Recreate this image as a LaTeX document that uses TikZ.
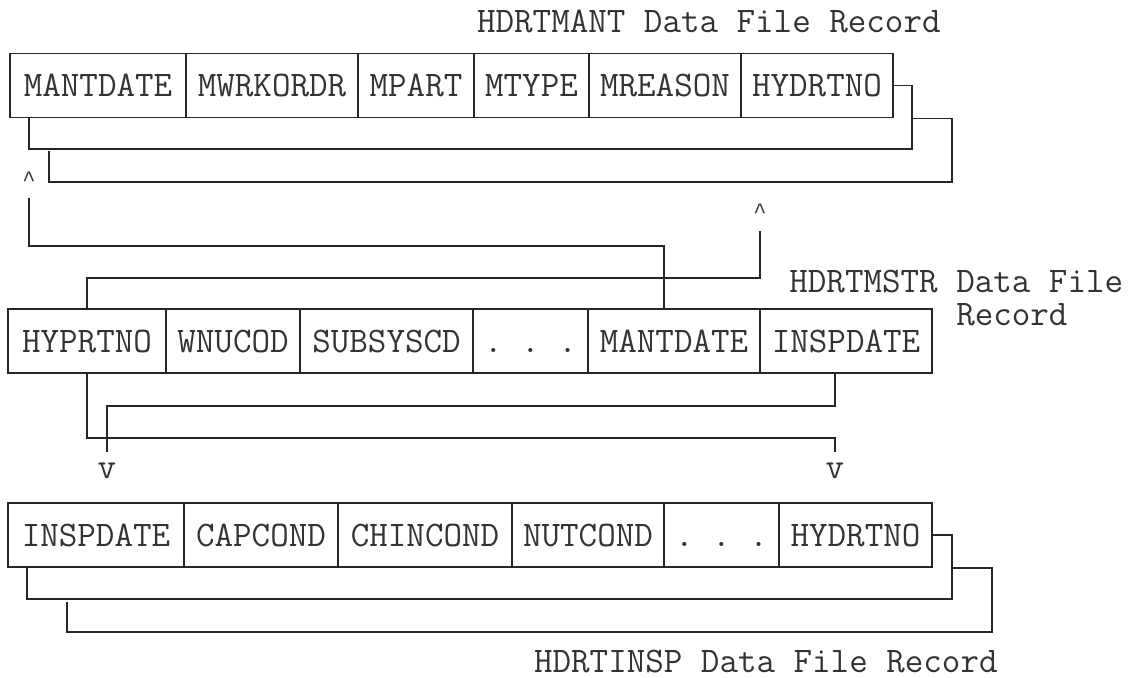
\documentclass[tikz,border=0pt]{standalone}
\usepackage{fontspec}
\newfontfamily\caretfont{Liberation Mono}
\usetikzlibrary{calc}
\newcommand\recfont{\ttfamily\fontsize{18}{16.5}\selectfont}
\newcommand\caret{{\caretfont\fontsize{11}{11}\selectfont\char`\^}}
\tikzset{
  x=0.5pt, y=-0.5pt,
  cell/.style={draw=black!85, line width=0.8pt, minimum height=32pt,
    inner sep=0pt, text height=11pt, text depth=0pt, font=\recfont, text=black!80},
  link/.style={draw=black!85, line width=0.8pt},
  rectitle/.style={inner sep=0pt, font=\recfont, text=black!80},
  pointer/.style={inner sep=0pt, font=\recfont, text=black!80, anchor=base},
}
\begin{document}
\begin{tikzpicture}
\useasboundingbox (0,0) rectangle (1145,677);

% ---- HDRTMANT record ----
\node[rectitle, anchor=base east] (mantTitle) at (941,32) {HDRTMANT Data File Record};
\node[cell, minimum width=88pt]   (t1) at (98,85.5)   {MANTDATE};
\node[cell, minimum width=86pt]   (t2) at (272,85.5)  {MWRKORDR};
\node[cell, minimum width=58pt]   (t3) at (416,85.5)  {MPART};
\node[cell, minimum width=57.5pt] (t4) at (531.5,85.5){MTYPE};
\node[cell, minimum width=76pt]   (t5) at (665,85.5)  {MREASON};
\node[cell, minimum width=76pt]   (t6) at (817,85.5)  {HYDRTNO};

\draw[link] (t6.east) -| (912,149) -| ([xshift=10pt]t1.south west);
\coordinate (tEnd) at (49,151);
\draw[link] ([xshift=9.5pt]t6.south east) -| (952,182) -| (tEnd);

% ---- pointers between the records ----
\node[pointer] (upL) at (29,186) {\caret};
\node[pointer] (upR) at (760,218) {\caret};
\coordinate (upLfoot) at (29,198);
\coordinate (upRfoot) at (760,231);

% ---- HDRTMSTR record ----
\node[rectitle, anchor=north west, align=left] (mstrTitle) at (789,270)
  {HDRTMSTR Data File\\\phantom{HDRTMSTR }Record};
\node[cell, minimum width=79pt]   (m1) at (87,341)    {HYPRTNO};
\node[cell, minimum width=67pt]   (m2) at (233,341)   {WNUCOD};
\node[cell, minimum width=86.5pt] (m3) at (386.5,341) {SUBSYSCD};
\node[cell, minimum width=57.5pt] (m4) at (530.5,341) {.\ .\ .};
\node[cell, minimum width=86pt]   (m5) at (674,341)   {MANTDATE};
\node[cell, minimum width=86pt]   (m6) at (846,341)   {INSPDATE};

\draw[link] (upLfoot) |- (664,246) -- ([xshift=-5pt]m5.north);
\draw[link] (upRfoot) |- (87,278) -- (m1.north);

\node[pointer] (dnL) at (107,478) {v};
\node[pointer] (dnR) at (835,478) {v};
\coordinate (dnLtop) at (107,452);
\coordinate (dnRtop) at (835,452);
\draw[link] ([xshift=-5.5pt]m6.south) |- (107,406) -- (dnLtop);
\draw[link] (m1.south) |- (835,438) -- (dnRtop);

% ---- HDRTINSP record ----
\node[cell, minimum width=88pt]   (b1) at (96,535)    {INSPDATE};
\node[cell, minimum width=77pt]   (b2) at (261,535)   {CAPCOND};
\node[cell, minimum width=87pt]   (b3) at (425,535)   {CHINCOND};
\node[cell, minimum width=76pt]   (b4) at (588,535)   {NUTCOND};
\node[cell, minimum width=57.5pt] (b5) at (721.5,535) {.\ .\ .};
\node[cell, minimum width=76.5pt] (b6) at (855.5,535) {HYDRTNO};

\draw[link] (b6.east) -| (952,599) -| ([xshift=10pt]b1.south west);
\coordinate (bEnd) at (67,602);
\draw[link] ([xshift=10pt]b6.south east) -| (992,632) -| (bEnd);

\node[rectitle, anchor=base east] (inspTitle) at (998,672) {HDRTINSP Data File Record};
\end{tikzpicture}
\end{document}
